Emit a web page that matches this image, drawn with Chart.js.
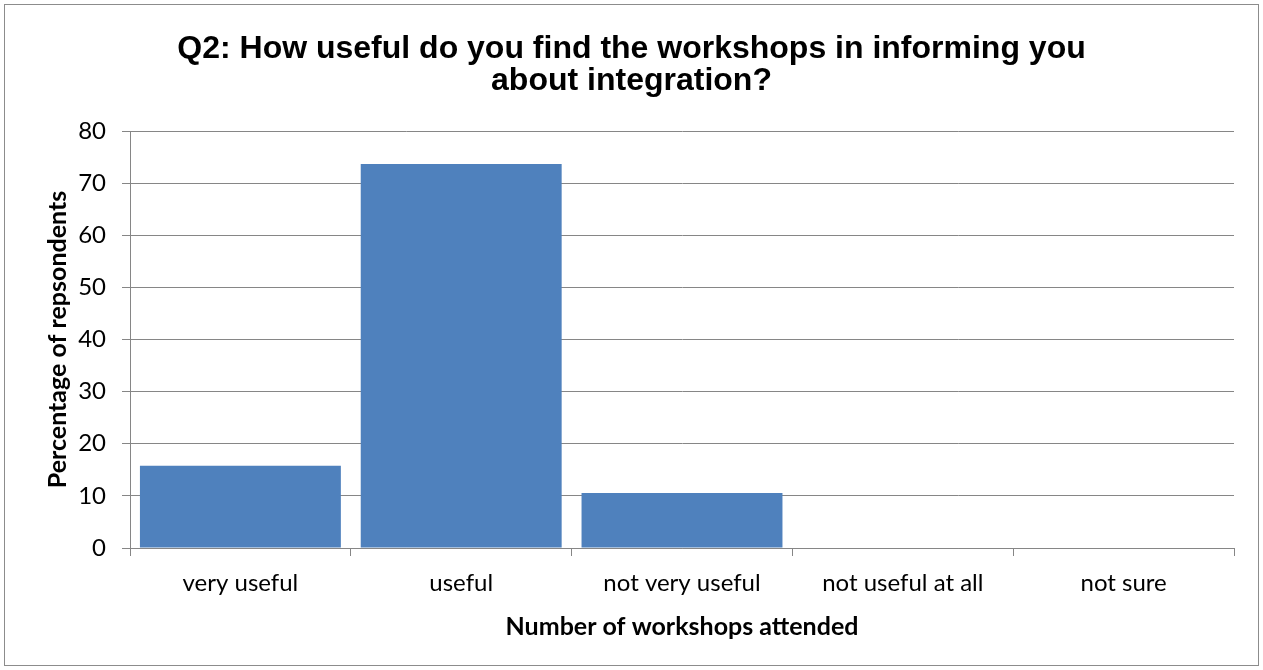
<!DOCTYPE html>
<html>
<head>
<meta charset="utf-8">
<script src="https://cdn.jsdelivr.net/npm/chart.js@4"></script>
<style>
  body { margin: 0; background: #fff; }
  #frame { position: absolute; left: 4px; top: 4px; width: 1253px; height: 660px; border: 1px solid #8c8c8c; }
  #myChart { position: absolute; left: 0; top: 0; }
</style>
</head>
<body>
<div id="frame"></div>
<canvas id="myChart" width="1263" height="670"></canvas>
<script>
// answers and share of respondents (%)
const categories = ["very useful", "useful", "not very useful", "not useful at all", "not sure"];
const percentages = [15.79, 73.68, 10.53, 0, 0];
const yTicks = [0, 10, 20, 30, 40, 50, 60, 70, 80];

const gridColor = "#868686";
const tickFont = {family: "Lato, 'Open Sans', sans-serif", size: 24, lineHeight: 1.2};
const axisTitleFont = {family: "Lato, 'Open Sans', sans-serif", size: 25, weight: "bold", lineHeight: 1.2};

new Chart("myChart", {
  type: "bar",
  data: {
    labels: categories,
    datasets: [{
      data: percentages,
      backgroundColor: "#4F81BD",
      categoryPercentage: 1,
      barPercentage: 0.91
    }]
  },
  options: {
    responsive: false,
    animation: false,
    devicePixelRatio: 1,
    layout: {padding: {left: 29, right: 29, top: 0, bottom: 28}},
    plugins: {
      legend: {display: false},
      tooltip: {enabled: false},
      title: {
        display: true,
        text: ["Q2: How useful do you find the workshops in informing you", "about integration?"],
        color: "#000",
        font: {family: "'Liberation Sans', Arial, sans-serif", size: 32, weight: "bold", lineHeight: 1.0},
        padding: {top: 33, bottom: 34}
      }
    },
    scales: {
      x: {
        grid: {display: true, drawOnChartArea: false, drawTicks: true, tickLength: 8, color: gridColor, offset: true},
        border: {color: gridColor, width: 1},
        ticks: {color: "#000", font: tickFont, padding: 13, maxRotation: 0},
        title: {
          display: true,
          text: "Number of workshops attended",
          color: "#000",
          font: axisTitleFont,
          padding: 0
        },
        afterFit: function(scale) { scale.height = 94; }
      },
      y: {
        min: 0,
        max: 80,
        afterBuildTicks: function(scale) { scale.ticks = yTicks.map(v => ({value: v})); },
        grid: {color: gridColor, tickLength: 8, lineWidth: 1},
        border: {color: gridColor, width: 1},
        ticks: {color: "#000", font: tickFont, padding: 16},
        title: {
          display: true,
          text: "Percentage of repsondents",
          color: "#000",
          font: axisTitleFont,
          padding: {top: 14, bottom: 0}
        },
        afterFit: function(scale) { scale.width = 101; }
      }
    }
  }
});
</script>
</body>
</html>
